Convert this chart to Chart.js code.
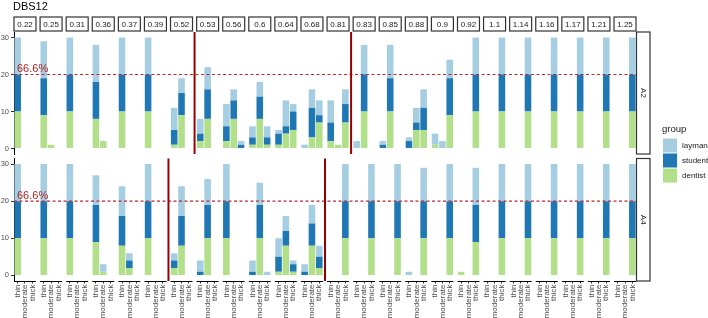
<!DOCTYPE html>
<html>
<head>
<meta charset="utf-8">
<script src="https://cdn.jsdelivr.net/npm/chart.js@4/dist/chart.umd.min.js"></script>
<style>
  body { margin: 0; background: #fff; }
  #wrap { position: relative; width: 708px; height: 318px; }
  #wrap canvas { position: absolute; left: 0; top: 0; }
</style>
</head>
<body>
<div id="wrap">
  <canvas id="chartA2" width="708" height="318"></canvas>
  <canvas id="chartA4" width="708" height="318"></canvas>
</div>
<script>
// facet columns (DBS12 values) and bars inside each column
const panels = ['0.22', '0.25', '0.31', '0.36', '0.37', '0.39', '0.52', '0.53', '0.56', '0.6', '0.64', '0.68',
                '0.81', '0.83', '0.85', '0.88', '0.9', '0.92', '1.1', '1.14', '1.16', '1.17', '1.21', '1.25'];
const sizes = ['thin', 'moderate', 'thick'];
const groups = ['layman', 'student', 'dentist'];
const yTicks = [0, 10, 20, 30];
const threshold = 20;
const thresholdLabel = '66.6%';

// counts per panel: thin, moderate, thick
const a2Dentist = [10,0,0, 9,1,0, 10,0,0, 8,2,0, 10,0,0, 10,0,0, 1,9,0, 2,8,0, 2,8,0, 1,8,1, 1,4,5, 0,3,7,
                   2,1,7, 0,10,0, 0,10,0, 0,5,5, 1,0,9, 0,0,10, 0,0,10, 0,0,10, 0,0,10, 0,0,10, 0,0,10, 0,0,10];
const a2Student = [10,0,0, 10,0,0, 10,0,0, 10,0,0, 10,0,0, 10,0,0, 4,6,0, 2,8,0, 4,5,1, 2,6,2, 3,2,5, 0,8,2,
                   5,0,5, 0,10,0, 1,9,0, 2,2,6, 0,0,10, 0,0,10, 0,0,10, 0,0,10, 0,0,10, 0,0,10, 0,0,10, 0,0,10];
const a2Layman  = [10,0,0, 10,0,0, 10,0,0, 10,0,0, 10,0,0, 10,0,0, 6,4,0, 4,6,0, 6,3,1, 3,4,3, 1,7,2, 1,5,4,
                   6,0,4, 2,8,0, 1,9,0, 1,4,5, 3,2,5, 0,0,10, 0,0,10, 0,0,10, 0,0,10, 0,0,10, 0,0,10, 0,0,10];

const a4Dentist = [10,0,0, 10,0,0, 10,0,0, 9,1,0, 8,2,0, 10,0,0, 2,8,0, 0,10,0, 10,0,0, 0,10,0, 1,8,1, 0,8,2,
                   0,0,10, 0,0,10, 0,0,10, 0,0,10, 0,0,10, 1,0,9, 0,0,10, 0,0,10, 0,0,10, 0,0,10, 0,0,10, 0,0,10];
const a4Student = [10,0,0, 10,0,0, 10,0,0, 10,0,0, 8,2,0, 10,0,0, 2,8,0, 1,9,0, 10,0,0, 1,9,0, 4,4,2, 1,6,3,
                   0,0,10, 0,0,10, 0,0,10, 0,0,10, 0,0,10, 0,0,10, 0,0,10, 0,0,10, 0,0,10, 0,0,10, 0,0,10, 0,0,10];
const a4Layman  = [10,0,0, 10,0,0, 10,0,0, 8,2,0, 8,2,0, 10,0,0, 2,8,0, 3,7,0, 10,0,0, 3,6,1, 5,4,1, 2,5,3,
                   0,0,10, 0,0,10, 0,0,10, 1,0,9, 0,0,10, 0,0,10, 0,0,10, 0,0,10, 0,0,10, 0,0,10, 0,0,10, 0,0,10];

// red separators drawn after these panels
const a2Cuts = ['0.52', '0.81'];
const a4Cuts = ['0.39', '0.68'];

const colors = { layman: '#A6CEE3', student: '#1F78B4', dentist: '#B2DF8A' };
const FONT = "'Liberation Sans', Arial, sans-serif";
const GAP = 0.56;
const STRIDE = sizes.length + GAP;
const X_MAX = panels.length * STRIDE - GAP;

function xOf(i) {
  return Math.floor(i / sizes.length) * STRIDE + (i % sizes.length) + 0.5;
}
const xTicks = a2Dentist.map((_, i) => xOf(i));

function series(values) {
  return values.map((v, i) => ({ x: xOf(i), y: v }));
}

function facetPlugin(facet, cuts, isTop) {
  return {
    id: 'facet' + facet,
    afterDatasetsDraw(chart) {
      const { ctx, chartArea: a, scales: { x, y } } = chart;
      ctx.save();

      // threshold line
      const ty = y.getPixelForValue(threshold);
      ctx.strokeStyle = '#C0262D';
      ctx.lineWidth = 1.2;
      ctx.setLineDash([3, 2.5]);
      ctx.beginPath();
      ctx.moveTo(a.left, ty);
      ctx.lineTo(a.right, ty);
      ctx.stroke();
      ctx.setLineDash([]);
      ctx.fillStyle = '#B22222';
      ctx.font = '11px ' + FONT;
      ctx.textAlign = 'left';
      ctx.textBaseline = 'alphabetic';
      ctx.fillText(thresholdLabel, a.left + 3, ty - 2.5);

      // separators
      ctx.strokeStyle = '#990000';
      ctx.lineWidth = 2;
      cuts.forEach(c => {
        const px = x.getPixelForValue((panels.indexOf(c) + 1) * STRIDE - GAP / 2);
        ctx.beginPath();
        ctx.moveTo(px, a.top);
        ctx.lineTo(px, a.bottom);
        ctx.stroke();
      });

      // right strip
      ctx.fillStyle = '#fff';
      ctx.strokeStyle = '#333';
      ctx.lineWidth = 1.2;
      ctx.fillRect(a.right + 0.5, a.top, 13.5, a.bottom - a.top);
      ctx.strokeRect(a.right + 0.5, a.top, 13.5, a.bottom - a.top);
      ctx.save();
      ctx.translate(a.right + 7.5, (a.top + a.bottom) / 2);
      ctx.rotate(Math.PI / 2);
      ctx.fillStyle = '#1A1A1A';
      ctx.font = '8px ' + FONT;
      ctx.textAlign = 'center';
      ctx.textBaseline = 'middle';
      ctx.fillText(facet, 0, 0);
      ctx.restore();

      panels.forEach((p, k) => {
        const l = x.getPixelForValue(k * STRIDE);
        const r = x.getPixelForValue(k * STRIDE + sizes.length);
        if (isTop) {
          // column strips
          ctx.fillStyle = '#fff';
          ctx.strokeStyle = '#333';
          ctx.lineWidth = 1.2;
          ctx.fillRect(l, 17, r - l, 14);
          ctx.strokeRect(l, 17, r - l, 14);
          ctx.fillStyle = '#1A1A1A';
          ctx.font = '8px ' + FONT;
          ctx.textAlign = 'center';
          ctx.textBaseline = 'middle';
          ctx.fillText(p, (l + r) / 2, 24.5);
        } else {
          // x axis segment per panel
          ctx.strokeStyle = '#000';
          ctx.lineWidth = 1;
          ctx.beginPath();
          ctx.moveTo(l, a.bottom + 0.5);
          ctx.lineTo(r, a.bottom + 0.5);
          ctx.stroke();
        }
      });

      if (isTop) {
        ctx.fillStyle = '#000';
        ctx.font = '11px ' + FONT;
        ctx.textAlign = 'left';
        ctx.textBaseline = 'alphabetic';
        ctx.fillText('DBS12', 13, 10);

        // legend
        ctx.fillStyle = '#1A1A1A';
        ctx.font = '9.5px ' + FONT;
        ctx.fillText('group', 662, 132);
        groups.forEach((g, k) => {
          const y0 = 138.5 + k * 15;
          ctx.fillStyle = colors[g];
          ctx.fillRect(663, y0, 14, 14);
          ctx.fillStyle = '#1A1A1A';
          ctx.font = '8px ' + FONT;
          ctx.textBaseline = 'middle';
          ctx.fillText(g, 682, y0 + 7);
          ctx.textBaseline = 'alphabetic';
        });
      }
      ctx.restore();
    }
  };
}

function buildChart(canvasId, facet, dentist, student, layman, cuts, isTop) {
  return new Chart(document.getElementById(canvasId), {
    type: 'bar',
    data: {
      datasets: [
        { label: 'dentist', data: series(dentist), backgroundColor: colors.dentist },
        { label: 'student', data: series(student), backgroundColor: colors.student },
        { label: 'layman', data: series(layman), backgroundColor: colors.layman }
      ]
    },
    options: {
      responsive: false,
      animation: false,
      layout: { padding: { top: isTop ? 32 : 158.5, right: 72, bottom: isTop ? 164 : 0, left: 0 } },
      datasets: { bar: { barPercentage: 0.9, categoryPercentage: 1, borderWidth: 0 } },
      plugins: { legend: { display: false }, tooltip: { enabled: false } },
      scales: {
        x: {
          type: 'linear',
          min: 0,
          max: X_MAX,
          stacked: true,
          offset: false,
          display: !isTop,
          border: { display: false },
          grid: { display: true, drawOnChartArea: false, drawTicks: true, tickLength: 2.5, color: '#333', offset: false },
          ticks: {
            autoSkip: false,
            minRotation: 90,
            maxRotation: 90,
            padding: 1,
            color: '#4D4D4D',
            font: { family: FONT, size: 8 },
            callback: (v, i) => sizes[i % sizes.length]
          },
          afterBuildTicks: s => { s.ticks = xTicks.map(v => ({ value: v })); },
          afterFit: s => { s.height = isTop ? 0 : 37; }
        },
        y: {
          min: -1.5,
          max: 31.5,
          stacked: true,
          border: { display: true, color: '#000', width: 1 },
          grid: { display: true, drawOnChartArea: false, drawTicks: true, tickLength: 3, color: '#333' },
          ticks: { padding: 2, color: '#4D4D4D', font: { family: FONT, size: 7.5 } },
          afterBuildTicks: s => { s.ticks = yTicks.map(v => ({ value: v })); },
          afterFit: s => { s.width = 14; }
        }
      }
    },
    plugins: [facetPlugin(facet, cuts, isTop)]
  });
}

buildChart('chartA2', 'A2', a2Dentist, a2Student, a2Layman, a2Cuts, true);
buildChart('chartA4', 'A4', a4Dentist, a4Student, a4Layman, a4Cuts, false);
</script>
</body>
</html>
